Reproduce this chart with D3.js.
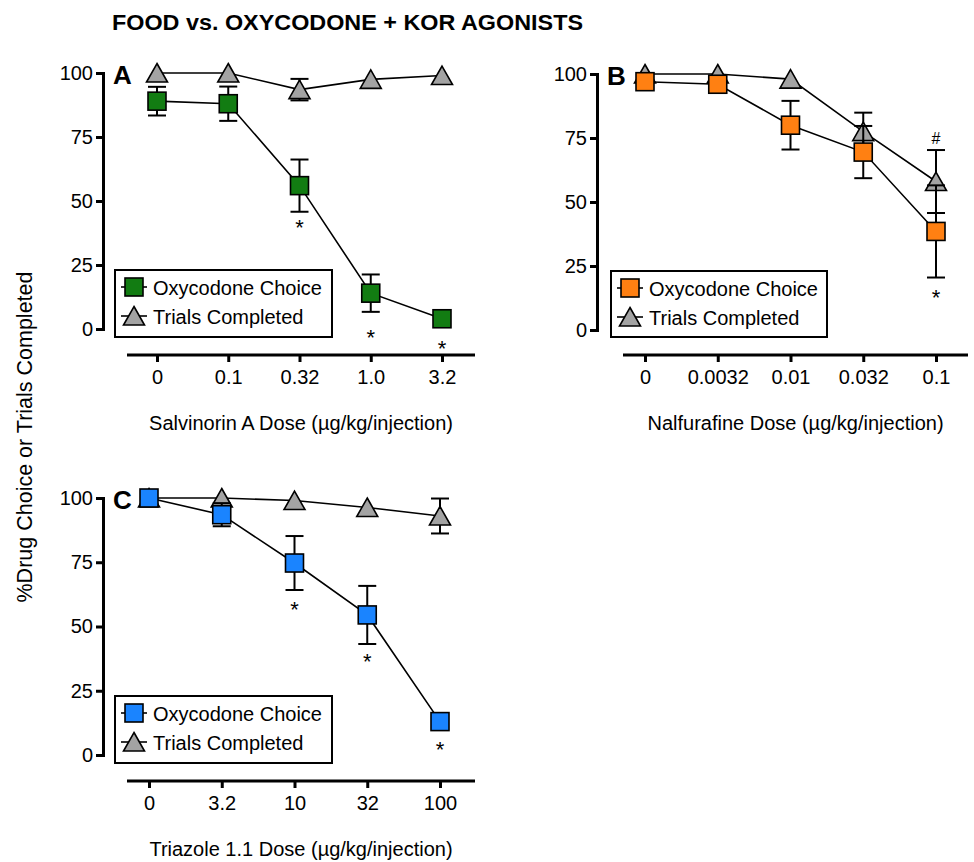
<!DOCTYPE html>
<html>
<head>
<meta charset="utf-8">
<script src="https://cdn.jsdelivr.net/npm/d3@7"></script>
<style>
  body { margin: 0; background: #fff; }
  svg { display: block; font-family: "Liberation Sans", Arial, Helvetica, sans-serif; }
</style>
</head>
<body>
<svg id="chart" width="974" height="862"></svg>
<script>
// ---------------- DATA ----------------
const titleText = "FOOD vs. OXYCODONE + KOR AGONISTS";
const yTitle = "%Drug Choice or Trials Completed";
const yTicks = [0, 25, 50, 75, 100];
const legendLabels = ["Oxycodone Choice", "Trials Completed"];

// Panel A – Salvinorin A
const dosesA = ["0", "0.1", "0.32", "1.0", "3.2"];
const choiceA = [89, 88, 56, 14, 4];
const choiceErrA = [5.6, 6.7, 10.2, 7.3, 0];
const trialsA = [100, 100, 93.5, 97.5, 99];
const trialsErrA = [0, 0, 4.2, 0, 0];
const marksA = [{ i: 2, y: 41.5, t: "*" }, { i: 3, y: -1.5, t: "*" }, { i: 4, y: -6, t: "*" }];

// Panel B – Nalfurafine
const dosesB = ["0", "0.0032", "0.01", "0.032", "0.1"];
const choiceB = [97, 96, 80, 69.5, 38.5];
const choiceErrB = [0, 0, 9.5, 10.2, 18];
const trialsB = [100, 100, 98, 77.5, 58];
const trialsErrB = [0, 0, 0, 7.4, 12.3];
const marksB = [{ i: 4, y: 75, t: "#" }, { i: 4, y: 14.5, t: "*" }];

// Panel C – Triazole 1.1
const dosesC = ["0", "3.2", "10", "32", "100"];
const choiceC = [100, 93.5, 74.7, 54.5, 13];
const choiceErrC = [0.5, 4.5, 10.5, 11.3, 0];
const trialsC = [100, 100, 99, 96.3, 93];
const trialsErrC = [0, 0, 0, 0, 6.8];
const marksC = [{ i: 2, y: 58.4, t: "*" }, { i: 3, y: 38.3, t: "*" }, { i: 4, y: 4, t: "*" }];

// ---------------- STYLE / LAYOUT ----------------
const FONT = 20;
const GRAY = "#a3a3a3";

const panels = [
  { letter: "A", doses: dosesA, choice: choiceA, choiceErr: choiceErrA, trials: trialsA, trialsErr: trialsErrA, marks: marksA,
    color: "#127c12", xTitle: "Salvinorin A Dose (µg/kg/injection)",
    yAxisX: 103, yTop: 73, yBot: 329, xAxisY: 355, xLine: [127, 475], xRange: [157, 442],
    legend: { x: 115, y: 270, w: 217, h: 67 } },
  { letter: "B", doses: dosesB, choice: choiceB, choiceErr: choiceErrB, trials: trialsB, trialsErr: trialsErrB, marks: marksB,
    color: "#ff8012", xTitle: "Nalfurafine Dose (µg/kg/injection)",
    yAxisX: 597, yTop: 74, yBot: 330, xAxisY: 355, xLine: [623, 968], xRange: [645, 936],
    legend: { x: 611, y: 271, w: 216, h: 66 } },
  { letter: "C", doses: dosesC, choice: choiceC, choiceErr: choiceErrC, trials: trialsC, trialsErr: trialsErrC, marks: marksC,
    color: "#1a84ff", xTitle: "Triazole 1.1 Dose (µg/kg/injection)",
    yAxisX: 103, yTop: 498, yBot: 755, xAxisY: 781, xLine: [127, 475], xRange: [149, 440],
    legend: { x: 115, y: 696, w: 217, h: 67 } }
];

const svg = d3.select("#chart");

// Title
svg.append("text")
  .attr("x", 112).attr("y", 30)
  .attr("font-size", 22).attr("font-weight", "bold")
  .attr("textLength", 471).attr("lengthAdjust", "spacingAndGlyphs")
  .text(titleText);

// Y title
svg.append("text")
  .attr("transform", "translate(32,437) rotate(-90)")
  .attr("text-anchor", "middle")
  .attr("font-size", 21.5)
  .text(yTitle);

const SQ = 18;
const triPath = "M0,-9.5L10.5,9L-10.5,9Z";

function drawSquare(g, x, y, color) {
  g.append("rect")
    .attr("x", x - SQ / 2).attr("y", y - SQ / 2)
    .attr("width", SQ).attr("height", SQ)
    .attr("fill", color).attr("stroke", "#000").attr("stroke-width", 1.6);
}
function drawTri(g, x, y) {
  g.append("path")
    .attr("d", triPath)
    .attr("transform", `translate(${x},${y})`)
    .attr("fill", GRAY).attr("stroke", "#000").attr("stroke-width", 1.6);
}

panels.forEach(p => {
  const g = svg.append("g");
  const x = d3.scalePoint().domain(p.doses).range(p.xRange).padding(0);
  const y = d3.scaleLinear().domain([0, 100]).range([p.yBot, p.yTop]);

  // Y axis
  const ya = g.append("g")
    .attr("transform", `translate(${p.yAxisX},0)`)
    .call(d3.axisLeft(y).tickValues(yTicks).tickSize(7).tickSizeOuter(0).tickPadding(3));
  ya.select(".domain").attr("stroke-width", 3).attr("stroke-linecap", "square");
  ya.selectAll(".tick line").attr("stroke-width", 3);
  ya.selectAll(".tick text").attr("font-size", FONT).attr("font-family", null).attr("fill", "#000");

  // X axis
  g.append("line")
    .attr("x1", p.xLine[0]).attr("x2", p.xLine[1])
    .attr("y1", p.xAxisY).attr("y2", p.xAxisY)
    .attr("stroke", "#000").attr("stroke-width", 3);
  const xa = g.append("g")
    .attr("transform", `translate(0,${p.xAxisY})`)
    .call(d3.axisBottom(x).tickSize(7).tickSizeOuter(0).tickPadding(8));
  xa.select(".domain").remove();
  xa.selectAll(".tick line").attr("stroke-width", 3);
  xa.selectAll(".tick text").attr("font-size", FONT).attr("font-family", null).attr("fill", "#000");

  // X title
  g.append("text")
    .attr("x", (p.xLine[0] + p.xLine[1]) / 2)
    .attr("y", p.xAxisY + 75)
    .attr("text-anchor", "middle")
    .attr("font-size", FONT)
    .text(p.xTitle);

  // Panel letter
  g.append("text")
    .attr("x", p.yAxisX + 10).attr("y", p.yTop + 11)
    .attr("font-size", 26).attr("font-weight", "bold")
    .text(p.letter);

  const line = d3.line().x((d, i) => x(p.doses[i])).y(d => y(d));

  function series(vals, errs, isTri) {
    g.append("path").datum(vals)
      .attr("d", line).attr("fill", "none")
      .attr("stroke", "#000").attr("stroke-width", 1.6);
    vals.forEach((v, i) => {
      const e = errs[i];
      if (e > 0) {
        const cx = x(p.doses[i]);
        const y1 = y(v + e), y2 = y(v - e);
        g.append("line").attr("x1", cx).attr("x2", cx).attr("y1", y1).attr("y2", y2)
          .attr("stroke", "#000").attr("stroke-width", 2);
        [y1, y2].forEach(yy => g.append("line")
          .attr("x1", cx - 9).attr("x2", cx + 9).attr("y1", yy).attr("y2", yy)
          .attr("stroke", "#000").attr("stroke-width", 2));
      }
    });
    vals.forEach((v, i) => {
      if (isTri) drawTri(g, x(p.doses[i]), y(v));
      else drawSquare(g, x(p.doses[i]), y(v), p.color);
    });
  }
  series(p.trials, p.trialsErr, true);
  series(p.choice, p.choiceErr, false);

  // Significance marks
  p.marks.forEach(m => {
    g.append("text")
      .attr("x", x(p.doses[m.i]))
      .attr("y", y(m.y))
      .attr("text-anchor", "middle")
      .attr("dy", m.t === "*" ? "0.55em" : "0.35em")
      .attr("font-size", m.t === "*" ? 22 : 16)
      .text(m.t);
  });

  // Legend
  const L = p.legend;
  const lg = g.append("g");
  lg.append("rect").attr("x", L.x).attr("y", L.y).attr("width", L.w).attr("height", L.h)
    .attr("fill", "#fff").attr("stroke", "#000").attr("stroke-width", 2);
  const sx = L.x + 19;
  const rows = [L.y + 17, L.y + 46];
  rows.forEach((ry, k) => {
    lg.append("line").attr("x1", sx - 13).attr("x2", sx + 13).attr("y1", ry).attr("y2", ry)
      .attr("stroke", "#000").attr("stroke-width", 1.6);
    if (k === 0) drawSquare(lg, sx, ry, p.color); else drawTri(lg, sx, ry);
    lg.append("text").attr("x", L.x + 38).attr("y", ry + 7.5)
      .attr("font-size", FONT).text(legendLabels[k]);
  });
});
</script>
</body>
</html>
